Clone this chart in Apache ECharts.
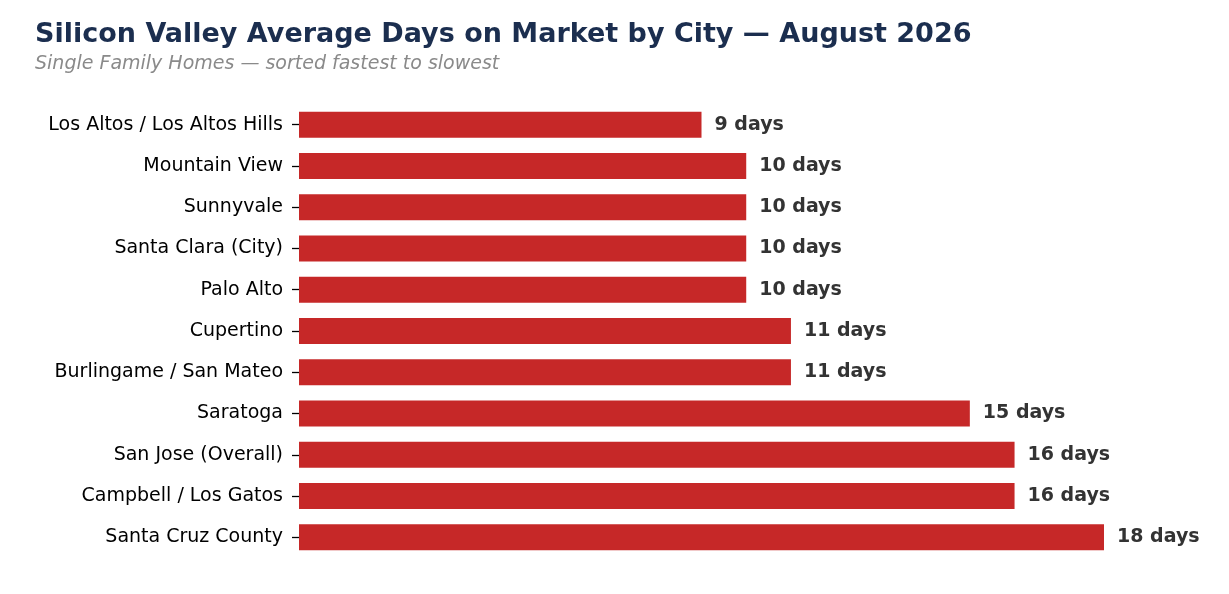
<!DOCTYPE html>
<html><head><meta charset="utf-8">
<script src="https://cdn.jsdelivr.net/npm/echarts@6/dist/echarts.min.js"></script>
<style>html,body{margin:0;padding:0;background:#fff}#c{width:1229px;height:594px}</style>
</head><body><div id="c"></div>
<script>
const cities = ["Los Altos / Los Altos Hills","Mountain View","Sunnyvale","Santa Clara (City)","Palo Alto","Cupertino","Burlingame / San Mateo","Saratoga","San Jose (Overall)","Campbell / Los Gatos","Santa Cruz County"];
const days = [9,10,10,10,10,11,11,15,16,16,18];
const font = "DejaVu Sans";
const chart = echarts.init(document.getElementById('c'));
chart.setOption({
  animation:false,
  title:[
    {text:"Silicon Valley Average Days on Market by City — August 2026",left:30,top:16,textStyle:{fontFamily:font,fontSize:27,fontWeight:"bold",color:"#1b2e4f"}},
    {text:"Single Family Homes — sorted fastest to slowest",left:30,top:50,textStyle:{fontFamily:font,fontSize:19,fontStyle:"italic",fontWeight:"normal",color:"#8a8a8a"}}
  ],
  grid:{left:299,right:125,top:104,bottom:36,containLabel:false},
  xAxis:{type:"value",min:0,max:18,show:false},
  yAxis:{type:"category",data:cities,inverse:true,
    axisLine:{show:false},axisTick:{show:true,alignWithLabel:true,length:7,lineStyle:{color:"#000",width:1.3}},
    axisLabel:{fontFamily:font,fontSize:19,color:"#000",margin:16}},
  series:[{type:"bar",data:days,barWidth:26,itemStyle:{color:"#c62828"},
    label:{show:true,position:"right",distance:13,formatter:p=>p.value+" days",fontFamily:font,fontSize:19,fontWeight:"bold",color:"#333"}}]
});
</script></body></html>
